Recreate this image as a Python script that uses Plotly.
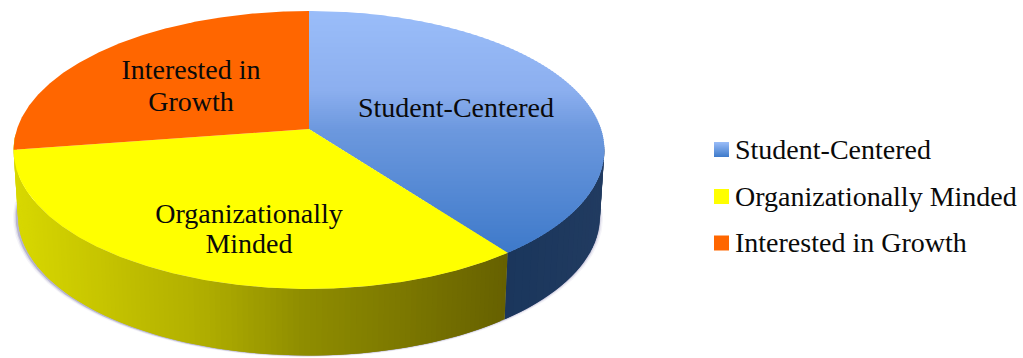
import numpy as np
import plotly.graph_objects as go

# Chart content
categories = ["Student-Centered", "Organizationally Minded", "Interested in Growth"]
shares = [39.8, 32.8, 27.4]
slice_labels = [["Student-Centered"], ["Organizationally", "Minded"], ["Interested in", "Growth"]]

# Drawing constants (pixel space of the 1023x358 canvas)
W, H = 1023, 358
CX, CY = 309.0, 129.0
A, B, K = 292.0, 135.8, 0.151      # projected disc: widths and perspective strength
DEPTH, SHRINK = 66.5, 0.985        # rim height and lower-edge narrowing
FONT = "Liberation Serif"
FONT_SIZE = 28
INK = "#0A0A0A"
ORANGE, YELLOW = "#FF6600", "#FFFF00"
BLUE_STOPS = [(11, "#9ABDF9"), (90, "#8CAFEF"), (130, "#6C98DE"), (252, "#3E7ACA")]
YELLOW_RIM = [(13, "#D8D800"), (100, "#C6C400"), (200, "#B0AE00"), (300, "#8F8D00"),
              (400, "#7C7800"), (507, "#666000")]
BLUE_RIM = [(503, "#1A365C"), (603, "#213B60")]
SWATCH_X, ROW_Y, TEXT_X = 721.5, [149.5, 196.5, 243], 735


def disc(theta):
    """Project a clockwise angle (radians from 12 o'clock) onto the tilted disc."""
    u, v = np.sin(theta), -np.cos(theta)
    d = 1 - K * v
    return CX + A * u / d, CY + B * v / d


def lower(x, y):
    return CX + (x - CX) * SHRINK, y + DEPTH


def hex_rgb(c):
    return np.array([int(c[i:i + 2], 16) for i in (1, 3, 5)], float)


def ramp(stops, t):
    pos = [s[0] for s in stops]
    cols = np.array([hex_rgb(s[1]) for s in stops])
    r, g, b = (np.interp(t, pos, cols[:, i]) for i in range(3))
    return f"rgb({r:.0f},{g:.0f},{b:.0f})"


def poly(xs, ys, color, **kw):
    return go.Scatter(x=list(xs), y=list(ys), mode="lines", fill="toself", fillcolor=color,
                      line=dict(width=0), hoverinfo="skip", showlegend=False, **kw)


def clip_rows(px, py, y0, y1):
    """Clip a closed polygon to the horizontal band y0..y1."""
    def clip(pts, keep, cross):
        out = []
        for i in range(len(pts)):
            a, b = pts[i], pts[(i + 1) % len(pts)]
            if keep(a):
                out.append(a)
            if keep(a) != keep(b):
                t = (cross - a[1]) / (b[1] - a[1])
                out.append((a[0] + t * (b[0] - a[0]), cross))
        return out
    pts = list(zip(px, py))
    pts = clip(pts, lambda p: p[1] >= y0, y0)
    if pts:
        pts = clip(pts, lambda p: p[1] <= y1, y1)
    return pts


def banded(px, py, stops, step=2.0):
    """Vertical colour ramp built from overlapping horizontal bands."""
    out = []
    for y in np.arange(min(py), max(py), step):
        pts = clip_rows(px, py, y, y + step + 1)
        if len(pts) > 2:
            xs, ys = zip(*pts)
            out.append(poly(xs + xs[:1], ys + ys[:1], ramp(stops, y + step / 2)))
    return out


# Slice boundaries, clockwise from 12 o'clock
edges = np.radians(np.concatenate([[0], np.cumsum(shares)]) * 360 / sum(shares))


def wedge(a0, a1):
    t = np.linspace(a0, a1, 240)
    x, y = disc(t)
    return np.r_[CX, x, CX], np.r_[CY, y, CY]


traces = []

# Soft shadow hugging the lower outline
t_all = np.linspace(np.radians(95), np.radians(268), 260)
tx, ty = disc(t_all)
bx, by = lower(tx, ty)
for grow, alpha, dx in [(4.0, 0.07, -1.0), (2.6, 0.14, -1.0), (1.4, 0.30, -1.0)]:
    sx = CX + (bx - CX) * (1 + grow / 296) + dx
    sy = by + grow * 0.4
    traces.append(poly(np.r_[sx, sx[0]], np.r_[sy, sy[0]], f"rgba(95,90,150,{alpha})"))


# Rim, painted strip by strip with a colour running along screen x
def rim(a0, a1, stops, n):
    t = np.linspace(a0, a1, n + 1)
    for i in range(n):
        tt = np.linspace(t[i], t[min(i + 2, n)], 6)
        x, y = disc(tt)
        xl, yl = lower(x, y)
        colour = ramp(stops, float(np.mean(x)))
        traces.append(poly(np.r_[x, xl[::-1], x[0]], np.r_[y, yl[::-1], y[0]], colour))


rim(np.radians(95), edges[1], BLUE_RIM, 24)
rim(edges[1], np.radians(268), YELLOW_RIM, 130)

# Top faces
px, py = wedge(edges[0], edges[1])
traces += banded(px, py, BLUE_STOPS)
px, py = wedge(edges[1], edges[2])
traces.append(poly(px, py, YELLOW))
px, py = wedge(edges[2], edges[3])
traces.append(poly(px, py, ORANGE))

# Slice captions
caption_x = [456, 249, 191]
caption_y = [[110], [216, 246], [72, 104]]
for lines, cx, ys in zip(slice_labels, caption_x, caption_y):
    traces.append(go.Scatter(x=[cx] * len(lines), y=ys, text=lines, mode="text",
                             textposition="middle center", hoverinfo="skip", showlegend=False,
                             textfont=dict(family=FONT, size=FONT_SIZE, color=INK)))

# Key: swatches with their names
half = 7.5
for name, yc, colour in zip(categories, ROW_Y, [None, YELLOW, ORANGE]):
    sq_x = np.array([SWATCH_X - half, SWATCH_X + half, SWATCH_X + half, SWATCH_X - half, SWATCH_X - half])
    sq_y = np.array([yc - half, yc - half, yc + half, yc + half, yc - half])
    if colour is None:
        top = yc - half
        stops = [(top, "#9ABDF9"), (top + 15, "#3E7ACA")]
        traces += banded(sq_x, sq_y, stops, step=1.0)
    else:
        traces.append(poly(sq_x, sq_y, colour))
    traces.append(go.Scatter(x=[TEXT_X], y=[yc + 2], text=[name], mode="text", textposition="middle right",
                             hoverinfo="skip", showlegend=False,
                             textfont=dict(family=FONT, size=FONT_SIZE, color=INK)))

fig = go.Figure(traces)
fig.update_layout(
    width=W, height=H, margin=dict(l=0, r=0, t=0, b=0),
    paper_bgcolor="white", plot_bgcolor="white", showlegend=False,
    xaxis=dict(range=[0, W], visible=False, fixedrange=True),
    yaxis=dict(range=[H, 0], visible=False, fixedrange=True),
)
fig.write_html("out.html", config=dict(displayModeBar=False))
